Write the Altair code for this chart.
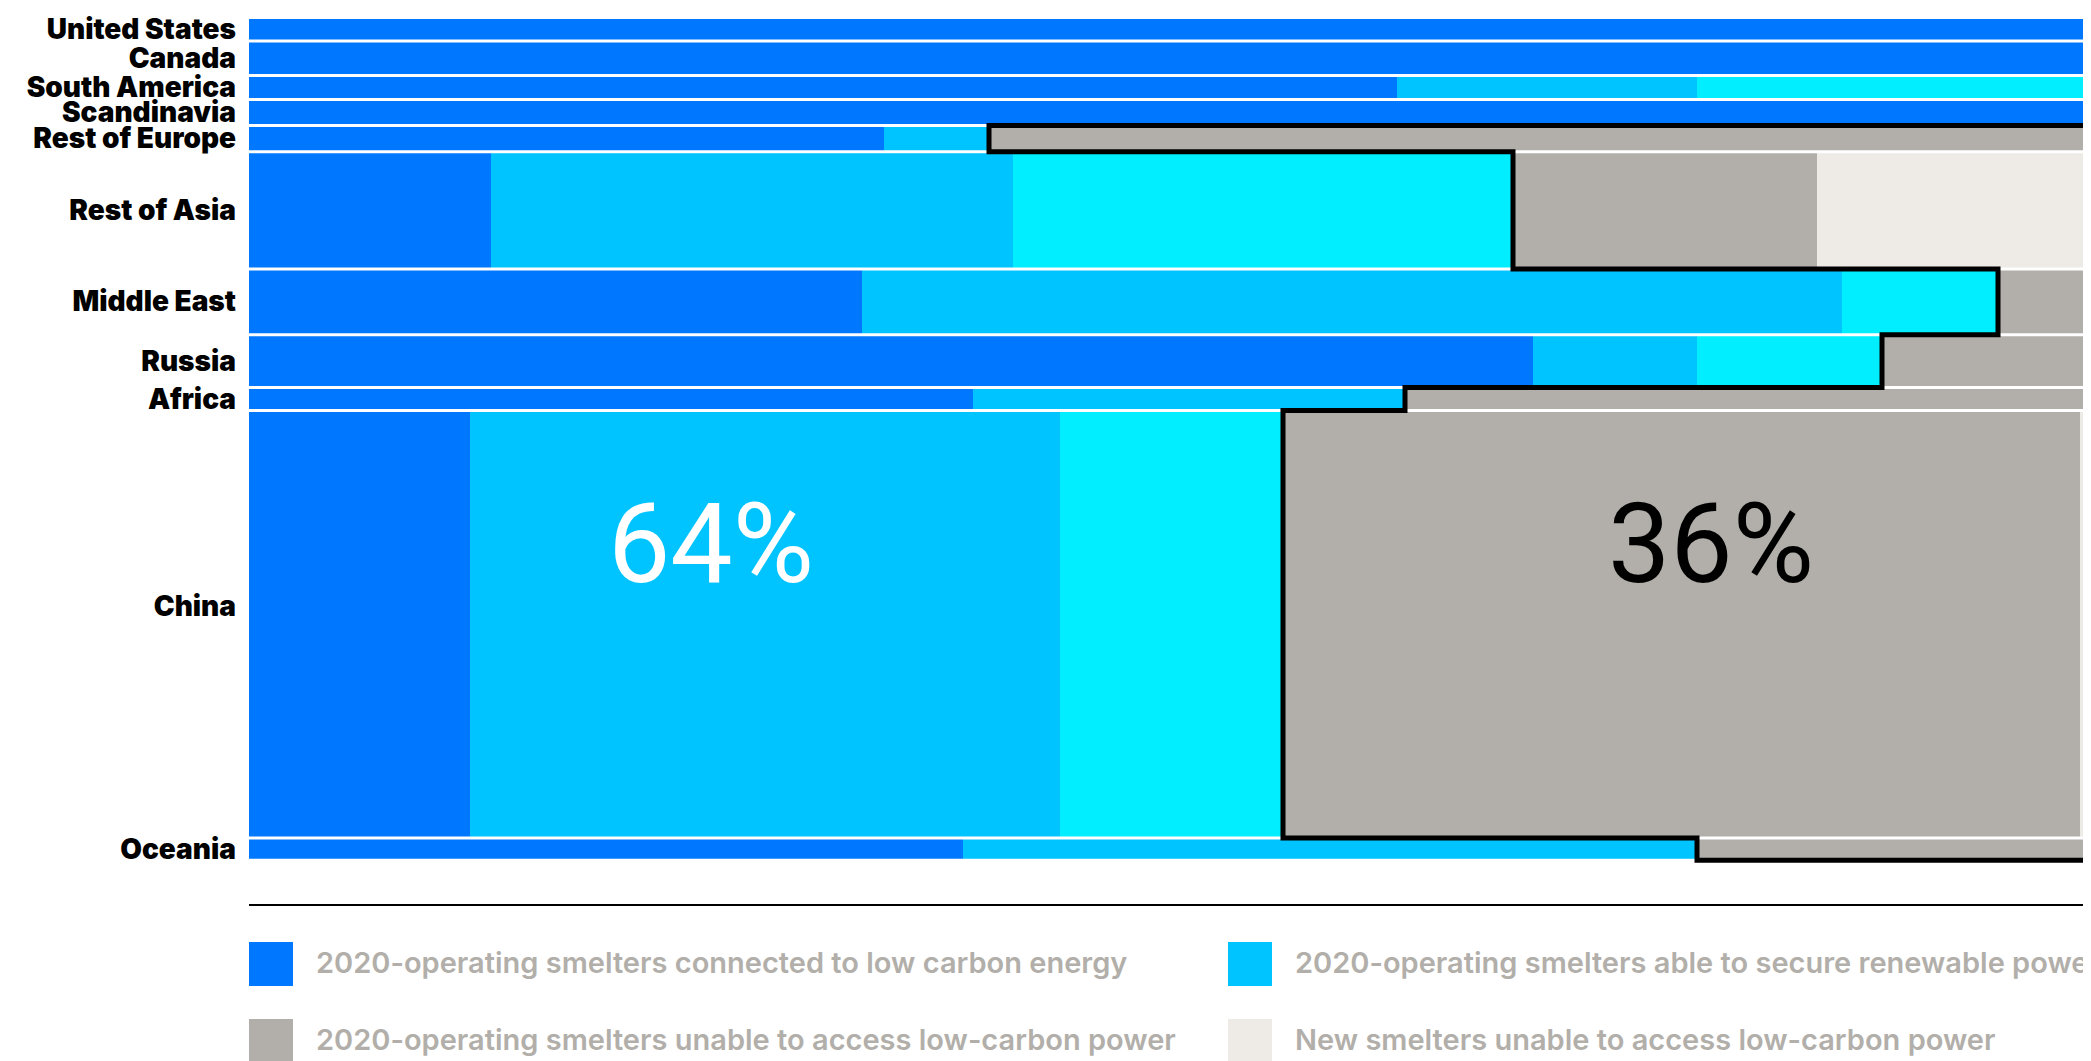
import altair as alt
import pandas as pd

# ---------------- data ----------------
regions = ["United States", "Canada", "South America", "Scandinavia", "Rest of Europe",
           "Rest of Asia", "Middle East", "Russia", "Africa", "China", "Oceania"]
# smelting capacity (Mt) -> row heights
capacity = [2.0, 2.95, 2.05, 2.2, 2.25, 10.0, 5.6, 4.5, 1.95, 36.45, 1.9]
# shares of each region's capacity (%)
connected_low_carbon = [100, 100, 57.4, 100, 31.75, 12.1, 30.65, 64.2, 36.2, 11.05, 35.7]
able_renewable = [0, 0, 15.0, 0, 5.25, 26.1, 49.0, 8.2, 21.6, 29.5, 36.7]
new_able_renewable = [0, 0, 27.6, 0, 0, 25.0, 7.8, 9.25, 0, 11.15, 0]
unable_low_carbon = [0, 0, 0, 0, 63.0, 15.2, 12.55, 18.35, 42.2, 39.85, 27.6]
new_unable_low_carbon = [0, 0, 0, 0, 0, 21.6, 0, 0, 0, 8.45, 0]

categories = [
    "2020-operating smelters connected to low carbon energy",
    "2020-operating smelters able to secure renewable power",
    "New smelters able to secure renewable power",
    "2020-operating smelters unable to access low-carbon power",
    "New smelters unable to access low-carbon power",
]
colors = ["#0077ff", "#00c4ff", "#00eeff", "#b2afaa", "#eeebe7"]
low_carbon_flags = [True, True, True, False, False]

# ---------------- derived tables ----------------
series = [connected_low_carbon, able_renewable, new_able_renewable,
          unable_low_carbon, new_unable_low_carbon]
total = sum(capacity)
bounds = [0.0]
for c in capacity:
    bounds.append(bounds[-1] + c)

seg_rows = []
for i, r in enumerate(regions):
    x0 = 0.0
    for cat, s in zip(categories, series):
        v = s[i]
        if v > 0:
            seg_rows.append(dict(region=r, category=cat, x0=x0, x1=x0 + v,
                                 y0=bounds[i], y1=bounds[i + 1]))
            x0 += v
segs = pd.DataFrame(seg_rows)

labels = pd.DataFrame(dict(region=regions,
                           mid=[(bounds[i] + bounds[i + 1]) / 2 for i in range(len(regions))]))
seps = pd.DataFrame(dict(b=bounds))

# outline of the region unable to access low-carbon power
low = [sum(s[i] for s, f in zip(series, low_carbon_flags) if f) for i in range(len(regions))]
pts = [(100, bounds[0])]
for i in range(len(regions)):
    pts.append((low[i], bounds[i]))
    pts.append((low[i], bounds[i + 1]))
pts.append((100, bounds[-1]))
outline = pd.DataFrame(dict(o=list(range(len(pts))), x=[p[0] for p in pts], y=[p[1] for p in pts]))

low_share = sum(c * l for c, l in zip(capacity, low)) / total
ann = pd.DataFrame(dict(t=[f"{round(low_share):.0f}%", f"{100 - round(low_share):.0f}%"],
                        x=[23.1, 73.1], y=[48.1, 48.1], c=["white", "black"]))

# ---------------- chart ----------------
xs = alt.Scale(domain=[0, 100], range=[241, 2241], nice=False, zero=False)
ys = alt.Scale(domain=[0, total], range=[9.5, 852.3], nice=False, zero=False)

bars = alt.Chart(segs).mark_rect(clip=True).encode(
    x=alt.X("x0:Q", scale=xs, axis=None),
    x2="x1:Q",
    y=alt.Y("y0:Q", scale=ys, axis=None),
    y2="y1:Q",
    color=alt.Color(
        "category:N",
        scale=alt.Scale(domain=categories, range=colors),
        legend=alt.Legend(
            title=None, orient="none", legendX=241, legendY=934, columns=3,
            direction="horizontal",
            symbolType="square", symbolSize=1936, symbolStrokeWidth=0, symbolOpacity=1,
            labelFont="Inter", labelFontSize=29, labelFontWeight=600, labelColor="#b2afaa",
            labelOffset=23, labelLimit=3000, rowPadding=33, columnPadding=52, padding=0,
        ),
    ),
)

separators = alt.Chart(seps).mark_rule(color="white", strokeWidth=3, clip=True).encode(
    y=alt.Y("b:Q", scale=ys),
    x=alt.datum(0, scale=xs),
    x2=alt.datum(100),
)

line = alt.Chart(outline).mark_line(color="black", strokeWidth=5, strokeJoin="miter",
                                    strokeCap="square", clip=True).encode(
    x=alt.X("x:Q", scale=xs),
    y=alt.Y("y:Q", scale=ys),
    order="o:Q",
)

label_style = dict(align="right", baseline="middle", font="Inter", fontSize=28,
                   fontWeight=900, color="black")

row_text = alt.Chart(labels).mark_text(dy=1.5, **label_style).encode(
    x=alt.value(228),
    y=alt.Y("mid:Q", scale=ys),
    text="region:N",
).transform_filter(alt.datum.region != "China")

china_text = alt.Chart(labels).mark_text(dy=-16.5, **label_style).encode(
    x=alt.value(228),
    y=alt.Y("mid:Q", scale=ys),
    text="region:N",
).transform_filter(alt.datum.region == "China")

big = alt.Chart(ann).mark_text(align="center", baseline="alphabetic", font="Roboto",
                               fontSize=111, fontWeight=400).encode(
    x=alt.X("x:Q", scale=xs),
    y=alt.Y("y:Q", scale=ys),
    text="t:N",
    color=alt.Color("c:N", scale=None),
)

baseline_rule = alt.Chart(seps).mark_rule(color="black", strokeWidth=2, clip=True).encode(
    x=alt.datum(0, scale=xs),
    x2=alt.datum(100),
    y=alt.value(897),
).transform_filter(alt.datum.b == 0)

chart = alt.layer(bars, separators, line, row_text, china_text, big, baseline_rule).properties(
    width=2075, height=1053, padding=0,
    autosize=alt.AutoSizeParams(type="none"),
    background="white",
).configure_view(strokeWidth=0)

chart.save("out.html", embed_options={"renderer": "svg", "actions": False})
